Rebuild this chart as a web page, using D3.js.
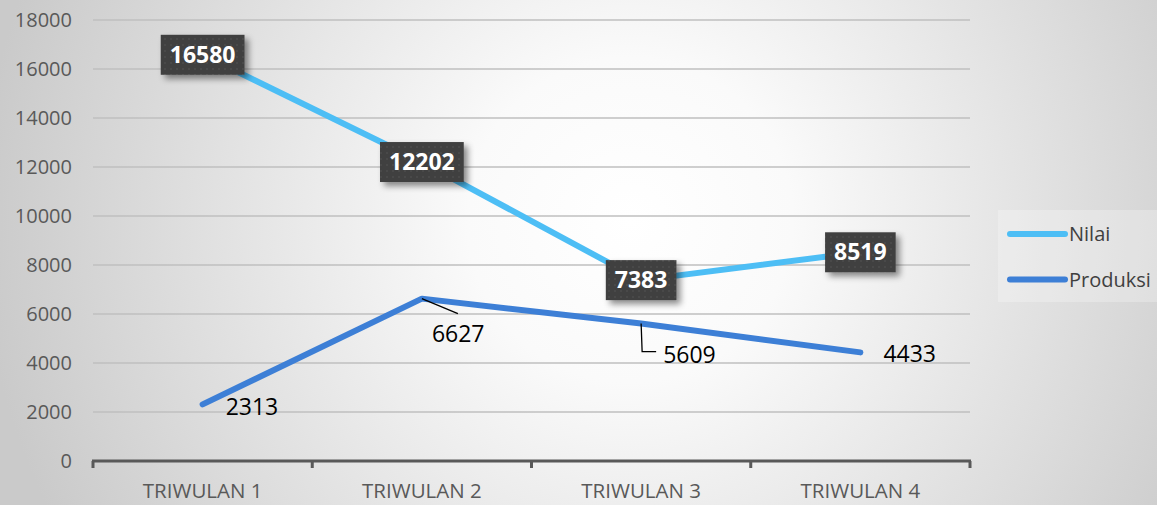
<!DOCTYPE html>
<html><head><meta charset="utf-8">
<script src="https://cdn.jsdelivr.net/npm/d3@7"></script>
<style>html,body{margin:0;padding:0;overflow:hidden;background:#fff}</style>
</head><body>
<script>
const categories = ["TRIWULAN 1", "TRIWULAN 2", "TRIWULAN 3", "TRIWULAN 4"];
const nilai = [16580, 12202, 7383, 8519];
const produksi = [2313, 6627, 5609, 4433];
const yTicks = [0, 2000, 4000, 6000, 8000, 10000, 12000, 14000, 16000, 18000];
const seriesNames = ["Nilai", "Produksi"];
const seriesColors = ["#4DBEF5", "#3D7FD6"];

const W = 1157, H = 505;
const svg = d3.select("body").append("svg").attr("width", W).attr("height", H)
  .style("font-family", "'Open Sans', sans-serif");
const defs = svg.append("defs");

const rg = defs.append("radialGradient").attr("id", "bg")
  .attr("gradientUnits", "userSpaceOnUse").attr("cx", 630).attr("cy", 220).attr("r", 650);
rg.append("stop").attr("offset", "0").attr("stop-color", "#ffffff");
rg.append("stop").attr("offset", "0.25").attr("stop-color", "#fafafa");
rg.append("stop").attr("offset", "1").attr("stop-color", "#cacaca");
svg.append("rect").attr("width", W).attr("height", H).attr("fill", "url(#bg)");

const pat = defs.append("pattern").attr("id", "dots").attr("patternUnits", "userSpaceOnUse")
  .attr("width", 6).attr("height", 6);
pat.append("rect").attr("width", 6).attr("height", 6).attr("fill", "#3f3f3f");
pat.append("circle").attr("cx", 3).attr("cy", 3).attr("r", 1).attr("fill", "#4d4d4d");

const sh = defs.append("filter").attr("id", "shadow").attr("x", "-20%").attr("y", "-20%")
  .attr("width", "150%").attr("height", "160%");
sh.append("feDropShadow").attr("dx", 4).attr("dy", 4).attr("stdDeviation", 3)
  .attr("flood-color", "#000").attr("flood-opacity", 0.45);

const x = d3.scaleBand().domain(categories).range([93, 970]);
const y = d3.scaleLinear().domain([0, 18000]).range([461, 20]);
const cx = c => x(c) + x.bandwidth() / 2;

// gridlines
svg.append("g").selectAll("line").data(yTicks.filter(t => t > 0)).join("line")
  .attr("x1", 93).attr("x2", 970).attr("y1", d => y(d)).attr("y2", d => y(d))
  .attr("stroke", "#bfbfbf").attr("stroke-width", 1.5);

// y tick labels
svg.append("g").selectAll("text").data(yTicks).join("text")
  .attr("x", 72).attr("y", d => y(d)).attr("dy", "0.35em").attr("text-anchor", "end")
  .attr("font-size", 20).attr("fill", "#595959").text(d => d);

// x axis
const xa = svg.append("g");
xa.append("line").attr("x1", 92).attr("x2", 971).attr("y1", y(0)).attr("y2", y(0))
  .attr("stroke", "#595959").attr("stroke-width", 3);
const bounds = categories.map(c => x(c)).concat([x.range()[1]]);
xa.selectAll("line.tk").data(bounds).join("line").attr("class", "tk")
  .attr("x1", d => d).attr("x2", d => d).attr("y1", y(0)).attr("y2", y(0) + 7)
  .attr("stroke", "#595959").attr("stroke-width", 3);
xa.selectAll("text").data(categories).join("text")
  .attr("x", d => cx(d)).attr("y", 491).attr("dy", "0.35em").attr("text-anchor", "middle")
  .attr("font-size", 20.5).attr("fill", "#595959").text(d => d);

// lines
const line = d3.line().x((d, i) => cx(categories[i])).y(d => y(d));
[nilai, produksi].forEach((s, k) => {
  svg.append("path").datum(s).attr("d", line).attr("fill", "none")
    .attr("stroke", seriesColors[k]).attr("stroke-width", 6)
    .attr("stroke-linejoin", "round").attr("stroke-linecap", "round");
});

// Produksi labels (plain, with leaders)
const pOffsets = [[23, 3], [10, 35], [22, 31], [23, 2]];
const pg = svg.append("g");
produksi.forEach((v, i) => {
  const px = cx(categories[i]), py = y(v);
  pg.append("text").attr("x", px + pOffsets[i][0]).attr("y", py + pOffsets[i][1])
    .attr("dy", "0.35em").attr("font-size", 23).attr("fill", "#000").text(v);
});
// leader lines
{
  const p1x = cx(categories[1]), p1y = y(produksi[1]);
  pg.append("path").attr("d", `M${p1x},${p1y}L${p1x + 36},${p1y + 15}`)
    .attr("stroke", "#000").attr("stroke-width", 1.3).attr("fill", "none");
  const p2x = cx(categories[2]), p2y = y(produksi[2]);
  pg.append("path").attr("d", `M${p2x},${p2y}L${p2x + 1},${p2y + 28}L${p2x + 15},${p2y + 28}`)
    .attr("stroke", "#000").attr("stroke-width", 1.3).attr("fill", "none");
}

// Nilai labels (dark boxes)
const ng = svg.append("g");
nilai.forEach((v, i) => {
  const px = cx(categories[i]), py = y(v);
  const g = ng.append("g");
  const r = g.append("rect").attr("fill", "url(#dots)").attr("filter", "url(#shadow)");
  const t = g.append("text").attr("x", px).attr("y", py).attr("dy", "0.35em")
    .attr("text-anchor", "middle").attr("font-size", 23).attr("font-weight", "bold")
    .attr("fill", "#fff").text(v);
  const bb = t.node().getBBox();
  const bw = bb.width + 18, bh = 40;
  r.attr("x", px - bw / 2).attr("y", py - bh / 2).attr("width", bw).attr("height", bh);
});

// legend
const lg = svg.append("g");
lg.append("rect").attr("x", 998).attr("y", 210).attr("width", 165).attr("height", 92)
  .attr("fill", "#ffffff").attr("opacity", 0.25);
seriesNames.forEach((n, k) => {
  const ly = 234 + k * 45.5;
  lg.append("line").attr("x1", 1010).attr("x2", 1065).attr("y1", ly).attr("y2", ly)
    .attr("stroke", seriesColors[k]).attr("stroke-width", 6).attr("stroke-linecap", "round");
  lg.append("text").attr("x", 1069).attr("y", ly).attr("dy", "0.35em")
    .attr("font-size", 20).attr("fill", "#404040").text(n);
});
</script>
</body></html>
